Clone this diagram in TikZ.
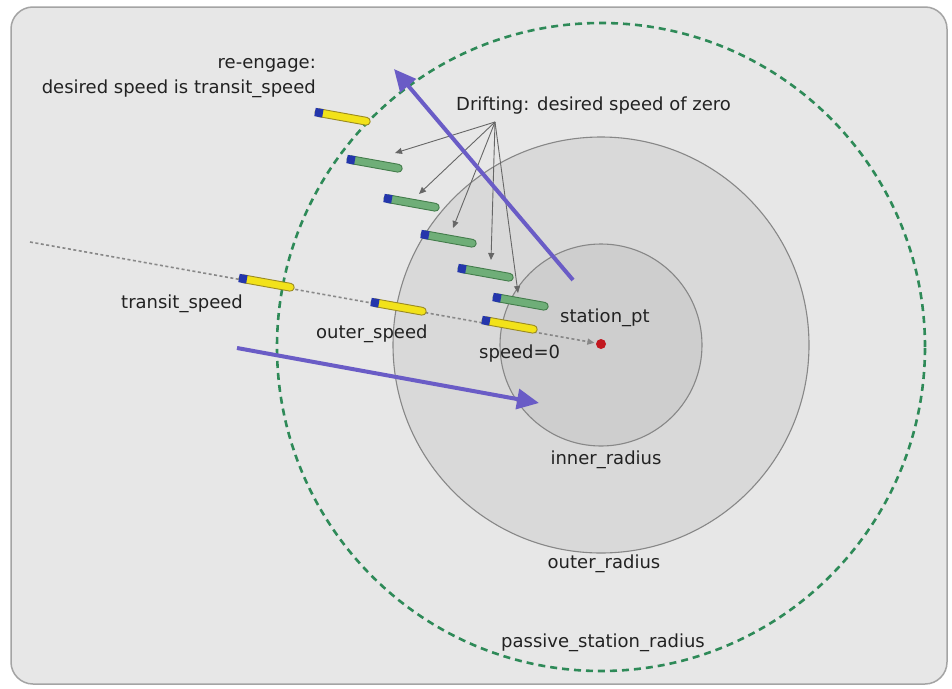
\documentclass[tikz,border=0pt]{standalone}
\usepackage{fontspec}
\newfontfamily\lblfont{DejaVu Sans}
\usetikzlibrary{arrows.meta}
\definecolor{bgfill}{HTML}{E7E7E7}
\definecolor{bgdraw}{HTML}{A4A4A4}
\definecolor{outerfill}{HTML}{D9D9D9}
\definecolor{innerfill}{HTML}{CECECE}
\definecolor{ringdraw}{HTML}{878787}
\definecolor{passgreen}{HTML}{2E8A58}
\definecolor{pathgray}{HTML}{888888}
\definecolor{purp}{HTML}{6A5CC6}
\definecolor{txt}{HTML}{222222}
\definecolor{vyellow}{HTML}{F2E21A}
\definecolor{vyellowd}{HTML}{9A8A22}
\definecolor{vgreen}{HTML}{6FAE78}
\definecolor{vgreend}{HTML}{437C4B}
\definecolor{vblue}{HTML}{2436AC}
\definecolor{reddot}{HTML}{C21820}
\tikzset{
  lbl/.style={font=\lblfont\fontsize{18}{25}\selectfont, text=txt, inner sep=0pt},
  purplearrow/.style={draw=purp, line width=4pt, -{Triangle[length=22pt,width=20pt]}},
  driftarrow/.style={draw=black!60, line width=0.9pt, -{Triangle[length=7pt,width=6pt]}},
  pathline/.style={draw=pathgray, line width=1.6pt, dash pattern=on 3pt off 2.5pt, -{Triangle[length=7pt,width=6pt]}, shorten >=1.5pt},
  ringline/.style={draw=ringdraw, line width=1.1pt},
  passline/.style={draw=passgreen, line width=2.6pt, dash pattern=on 7pt off 5pt},
}
\newcommand\drawvehicle[4]{%
  \begin{scope}[shift={(#2,#3)}, rotate=-10.2]
    \draw[fill=#4, draw=#4d, line width=0.9pt, rounded corners=3.8pt] (0,-3.9) rectangle (56,3.9);
    \fill[vblue] (0,-4.2) rectangle (8,4.2);
    \coordinate (#1) at (28,0);
  \end{scope}}
\begin{document}
\begin{tikzpicture}[x=1pt,y=-1pt]
\useasboundingbox (0,0) rectangle (952,688);
\fill[white] (0,0) rectangle (952,688);
\draw[fill=bgfill, draw=bgdraw, line width=1.5pt, rounded corners=22pt] (11,7) rectangle (947,684);
% circles
\coordinate (ctr) at (601,345);
\draw[ringline, fill=outerfill] (ctr) circle[radius=208pt];
\draw[ringline, fill=innerfill] (ctr) circle[radius=101pt];
\draw[passline] (601,347) circle[radius=324pt];
% station point
\node[circle, fill=reddot, minimum size=10pt, inner sep=0pt] (sp) at (601,344) {};
\coordinate (pathstart) at (30,242);
\draw[pathline] (pathstart) -- (sp);
% vehicles
\drawvehicle{v1}{315}{112}{vyellow}
\drawvehicle{v2}{347}{159}{vgreen}
\drawvehicle{v3}{384}{198}{vgreen}
\drawvehicle{v4}{421}{234}{vgreen}
\drawvehicle{v5}{458}{268}{vgreen}
\drawvehicle{v6}{493}{297}{vgreen}
\drawvehicle{vt}{239}{278}{vyellow}
\drawvehicle{vo}{371}{302}{vyellow}
\drawvehicle{vz}{482}{320}{vyellow}
% drifting arrows
\coordinate (apex) at (495,122);
\coordinate (d1) at (395,153);
\coordinate (d2) at (419,194);
\coordinate (d3) at (453,228);
\coordinate (d4) at (491,260);
\coordinate (d5) at (518,293);
\foreach \t in {d1,d2,d3,d4,d5} \draw[driftarrow] (apex) -- (\t);
% purple arrows
\coordinate (pa1s) at (573,280);
\coordinate (pa1e) at (394,69);
\coordinate (pa2s) at (237,348);
\coordinate (pa2e) at (539,403);
\draw[purplearrow] (pa1s) -- (pa1e);
\draw[purplearrow] (pa2s) -- (pa2e);
% labels
\node[lbl, align=right, anchor=base east] (reengage) at (316,93) {re-engage:\\desired speed is transit\_speed};
\node[lbl, anchor=base west] (drift) at (456,110) {Drifting: desired speed of zero};
\node[lbl, anchor=base west] (transit) at (121,308) {transit\_speed};
\node[lbl, anchor=base west] (outer) at (316,338) {outer\_speed};
\node[lbl, anchor=base west] (station) at (560,322) {station\_pt};
\node[lbl, anchor=base west] (zero) at (479,358) {speed=0};
\node[lbl, anchor=base] (innerr) at (606,464) {inner\_radius};
\node[lbl, anchor=base] (outerr) at (604,568) {outer\_radius};
\node[lbl, anchor=base] (passive) at (603,647) {passive\_station\_radius};
\end{tikzpicture}
\end{document}
